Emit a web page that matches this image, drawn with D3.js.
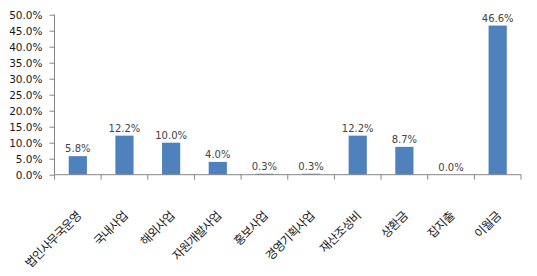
<!DOCTYPE html>
<html><head><meta charset="utf-8">
<script src="https://cdn.jsdelivr.net/npm/d3@7"></script>
<style>body{margin:0;background:#fff;}svg{display:block;}</style>
</head><body>
<svg id="c" width="537" height="276"></svg>
<script>
const categories = ["법인사무국운영","국내사업","해외사업","자원개발사업","홍보사업","경영기획사업","재산조성비","상환금","잡지출","이월금"];
const values = [5.8, 12.2, 10.0, 4.0, 0.3, 0.3, 12.2, 8.7, 0.0, 46.6];
const yTicks = [0,5,10,15,20,25,30,35,40,45,50];

(function(){
const svg = d3.select("#c");
const mL = 54.5, mR = 521, mT = 14.7, mB = 174.7;
const x = d3.scaleBand().domain(categories).range([mL, mR]).paddingInner(0.61).paddingOuter(0.305);
const y = d3.scaleLinear().domain([0,50]).range([mB, mT]);

const axisColor = "#868686";
const ya = svg.append("g").attr("transform", `translate(${mL},0)`)
  .call(d3.axisLeft(y).tickValues(yTicks).tickSize(5).tickFormat(d => d3.format(".1f")(d) + "%"));
ya.select(".domain").attr("stroke", axisColor).attr("d", `M0,${mT}V${mB}`);
ya.selectAll(".tick line").attr("stroke", axisColor);
ya.selectAll(".tick text").attr("font-family", "DejaVu Sans").attr("font-size", 10.5).attr("fill", "#1a1a1a").attr("x", -12);

svg.selectAll("rect.bar").data(values).enter().append("rect")
  .attr("x", (d,i) => x(categories[i]))
  .attr("width", x.bandwidth())
  .attr("y", d => y(d))
  .attr("height", d => mB - y(d))
  .attr("fill", "#4F81BD");

const step = (mR - mL) / categories.length;
const xg = svg.append("g");
xg.append("line").attr("x1", mL).attr("x2", mR).attr("y1", mB).attr("y2", mB).attr("stroke", axisColor);
d3.range(categories.length + 1).forEach(i => {
  xg.append("line").attr("x1", mL + i*step).attr("x2", mL + i*step).attr("y1", mB).attr("y2", mB+5).attr("stroke", axisColor);
});
categories.forEach((c,i) => {
  const cx = x(c) + x.bandwidth()/2;
  xg.append("text").attr("transform", `translate(${cx+4},${mB+42}) rotate(-45)`)
    .attr("text-anchor", "end").attr("font-family", "Noto Sans CJK KR").attr("font-size", 12)
    .attr("letter-spacing", -0.6)
    .attr("fill", "#1a1a1a").text(c);
});

svg.selectAll("text.val").data(values).enter().append("text")
  .attr("x", (d,i) => x(categories[i]) + x.bandwidth()/2)
  .attr("y", d => y(d) - 4)
  .attr("text-anchor", "middle").attr("font-family", "DejaVu Sans").attr("font-size", 10)
  .attr("fill", "#444").text(d => d3.format(".1f")(d) + "%");
})();
</script>
</body></html>
